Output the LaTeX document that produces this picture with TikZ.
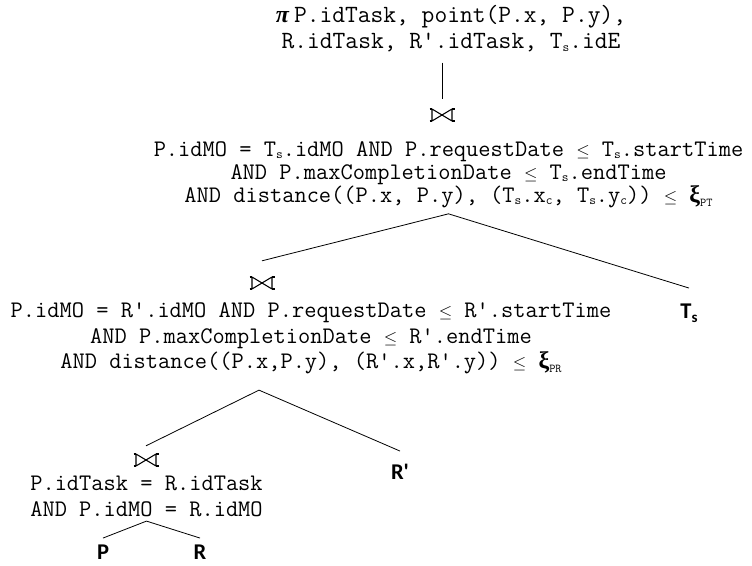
\documentclass[tikz,border=0pt]{standalone}
\usepackage{fontspec}
\newfontfamily\relfont{Carlito}[Ligatures=TeXOff]
\newfontfamily\grkfont{Liberation Serif}
\newcommand{\lo}[1]{\raisebox{-2.5pt}{\fontsize{13}{13}\selectfont #1}}
\newcommand{\lte}{{\fontsize{16}{16}\selectfont$\leq$}}
\newcommand{\xisub}[1]{{\grkfont\bfseries\fontsize{24}{24}\selectfont ξ}\raisebox{-4pt}{\fontsize{12}{12}\selectfont #1}}

\begin{document}
\begin{tikzpicture}[x=1pt, y=-1pt,
  expr/.style={font=\ttfamily\fontsize{23.75}{#1}\selectfont, align=center, inner sep=0pt},
  rel/.style={font=\relfont\bfseries\fontsize{22.5}{24}\selectfont, inner sep=0pt, text height=14.5pt, text depth=0pt},
  joinop/.style={minimum width=28pt, minimum height=15pt, inner sep=0pt, path picture={
    \begin{scope}[shift={(path picture bounding box.center)}, line width=1.1pt, line join=round]
      \draw (-10pt,6pt) -- (-10pt,-6pt) -- (10pt,6pt) -- (10pt,-6pt) -- cycle;
      \draw (-12.5pt,6pt) -- (-10pt,6pt) (-12.5pt,-6pt) -- (-10pt,-6pt)
            (10pt,6pt) -- (12.5pt,6pt) (10pt,-6pt) -- (12.5pt,-6pt);
    \end{scope}}},
  branch/.style={line width=.8pt}]
\useasboundingbox (0,0) rectangle (752,565);

\node[expr=26, font=\ttfamily\fontsize{24.8}{26}\selectfont] (proj) at (451,29)
  {{\grkfont\bfseries\itshape\fontsize{24}{24}\selectfont π}\hspace{5pt}P.idTask, point(P.x, P.y),\\R.idTask, R'.idTask, T\lo{s}.idE};
\node[joinop] (jn1) at (442,115) {};
\node[expr=23] (cond1) at (448.5,174.5)
  {P.idMO = T\lo{s}.idMO AND P.requestDate \lte{} T\lo{s}.startTime\\
   AND P.maxCompletionDate \lte{} T\lo{s}.endTime\\
   AND distance((P.x, P.y), (T\lo{s}.x\lo{c}, T\lo{s}.y\lo{c})) \lte{} \xisub{PT}};
\node[joinop] (jn2) at (262,283) {};
\node[rel] (Ts) at (689,311) {T\raisebox{-4pt}{\fontsize{15}{15}\selectfont s}};
\node[expr=25.3] (cond2) at (311,338.5)
  {P.idMO = R'.idMO AND P.requestDate \lte{} R'.startTime\\
   AND P.maxCompletionDate \lte{} R'.endTime\\
   AND distance((P.x,P.y), (R'.x,R'.y)) \lte{} \xisub{PR}};
\node[joinop] (jn3) at (146,460) {};
\node[rel] (Rp) at (400,472) {R'};
\node[expr=26] (cond3) at (146.5,496.5) {P.idTask = R.idTask\\AND P.idMO = R.idMO};
\node[rel] (P) at (103,552) {P};
\node[rel] (R) at (200,552) {R};

\draw[branch, shorten <=10pt, shorten >=8.5pt] (proj.south -| jn1.north) -- (jn1.north);
\coordinate (top1) at ([yshift=-6pt]cond1.south);
\draw[branch] ([yshift=14.5pt]jn2.north) -- (top1) -- ([yshift=15.5pt]Ts.north);
\coordinate (top2) at ([xshift=-52pt,yshift=-16pt]cond2.south);
\draw[branch] ([yshift=6.5pt]jn3.north) -- (top2) -- ([yshift=13.5pt]Rp.north);
\coordinate (top3) at ([yshift=-4pt]cond3.south);
\draw[branch] ([yshift=6.5pt]P.north) -- (top3) -- ([yshift=6.5pt]R.north);
\end{tikzpicture}
\end{document}
